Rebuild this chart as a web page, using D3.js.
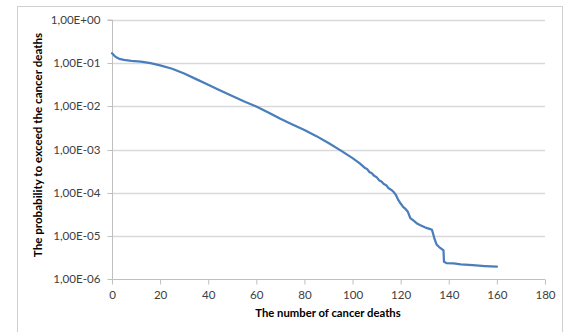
<!DOCTYPE html>
<html>
<head>
<meta charset="utf-8">
<script src="https://cdn.jsdelivr.net/npm/d3@7"></script>
<style>
  html, body { margin: 0; padding: 0; background: #fff; }
  svg { display: block; }
  text { font-family: Lato, "Liberation Sans", Arial, sans-serif; fill: #404040; }
</style>
</head>
<body>
<svg id="chart" width="567" height="332"></svg>
<script>
// Number of cancer deaths (x) and the probability of exceeding it (y)
const deaths = [0, 1, 2, 3, 5, 8, 12, 16, 20, 25, 30, 35, 40, 45, 50, 55, 60, 65, 70, 75,
  80, 85, 90, 95, 100, 103, 105, 106, 107, 108, 109, 110, 111, 112, 113, 114, 115, 116,
  117, 118, 119, 120, 121, 122, 123, 124, 125, 127, 128, 130, 131, 132, 133, 133.5, 134,
  135, 136, 137, 137.8, 138, 139, 142, 145, 150, 155, 160];
const probability = [0.17, 0.148, 0.135, 0.126, 0.119, 0.1135, 0.108, 0.1, 0.0891, 0.0741,
  0.0575, 0.0427, 0.0316, 0.0234, 0.0174, 0.0129, 0.00989, 0.00724, 0.00513, 0.0038,
  0.00282, 0.00204, 0.00141, 0.000955, 0.000631, 0.000479, 0.00038, 0.000355, 0.000302,
  0.000282, 0.000245, 0.000229, 0.000195, 0.000182, 0.000158, 0.000148, 0.000126,
  0.000117, 0.000105, 8.9e-5, 6.8e-5, 5.6e-5, 4.7e-5, 4.2e-5, 3.6e-5, 2.57e-5, 2.34e-5,
  1.9e-5, 1.78e-5, 1.58e-5, 1.51e-5, 1.45e-5, 1.38e-5, 1.12e-5, 8.7e-6, 6.2e-6, 5.5e-6,
  5.0e-6, 4.6e-6, 2.5e-6, 2.34e-6, 2.29e-6, 2.19e-6, 2.09e-6, 2.0e-6, 1.93e-6];

const xTicks = [0, 20, 40, 60, 80, 100, 120, 140, 160, 180];
const yTicks = [1, 1e-1, 1e-2, 1e-3, 1e-4, 1e-5, 1e-6];
const yTickLabels = ["1,00E+00", "1,00E-01", "1,00E-02", "1,00E-03", "1,00E-04", "1,00E-05", "1,00E-06"];
const xTitle = "The number of cancer deaths";
const yTitle = "The probability to exceed the cancer deaths";

const svg = d3.select("#chart");
const plot = { left: 112, right: 545, top: 20, bottom: 279 };

// Chart area frame
svg.append("rect")
  .attr("x", 17.5).attr("y", 6.5)
  .attr("width", 545).attr("height", 340)
  .attr("fill", "#fff").attr("stroke", "#d0d0d0");

const x = d3.scaleLinear().domain([0, 180]).range([plot.left, plot.right]);
const y = d3.scaleLog().domain([1e-6, 1]).range([plot.bottom, plot.top]);

// Horizontal gridlines at every decade
svg.append("g")
  .selectAll("line")
  .data(yTicks.slice(0, -1))
  .join("line")
  .attr("x1", plot.left).attr("x2", plot.right)
  .attr("y1", d => Math.round(y(d)) + 0.5).attr("y2", d => Math.round(y(d)) + 0.5)
  .attr("stroke", "#d9d9d9").attr("stroke-width", 1.3);

// Y axis
const yAxis = svg.append("g")
  .attr("transform", `translate(${plot.left + 0.5},0)`)
  .call(d3.axisLeft(y).tickValues(yTicks)
    .tickFormat((d, i) => yTickLabels[i]).tickSize(5).tickPadding(6));
yAxis.select(".domain").attr("stroke", "#bfbfbf").attr("d", `M-5,${plot.top}H0V${plot.bottom}`);
yAxis.selectAll(".tick line").attr("stroke", "#bfbfbf");
yAxis.selectAll(".tick").attr("transform", d => `translate(0,${Math.round(y(d)) + 0.5})`);
yAxis.selectAll(".tick text").style("font-size", "11.6px").attr("fill", "#404040")
  .attr("x", -12);

// X axis
const xAxis = svg.append("g")
  .attr("transform", `translate(0,${plot.bottom + 0.5})`)
  .call(d3.axisBottom(x).tickValues(xTicks).tickSize(5).tickPadding(6));
xAxis.select(".domain").attr("stroke", "#bfbfbf").attr("d", `M${plot.left},0H${plot.right}`);
xAxis.selectAll(".tick line").attr("stroke", "#bfbfbf");
xAxis.selectAll(".tick text").style("font-size", "11.6px").attr("fill", "#404040");

// Series line
const line = d3.line()
  .x((d, i) => x(deaths[i]))
  .y(d => y(d))
  .curve(d3.curveLinear);
svg.append("path")
  .datum(probability)
  .attr("d", line)
  .attr("fill", "none")
  .attr("stroke", "#4a7ebb")
  .attr("stroke-width", 2.25)
  .attr("stroke-linejoin", "round")
  .attr("stroke-linecap", "round");

// Axis titles
svg.append("text")
  .attr("x", 328).attr("y", 317)
  .attr("text-anchor", "middle")
  .style("font-size", "11.3px").style("font-weight", "bold")
  .style("fill", "#000")
  .text(xTitle);

svg.append("text")
  .attr("transform", `translate(42,145) rotate(-90)`)
  .attr("text-anchor", "middle")
  .style("font-size", "11.6px").style("font-weight", "bold")
  .style("fill", "#000")
  .text(yTitle);
</script>
</body>
</html>
